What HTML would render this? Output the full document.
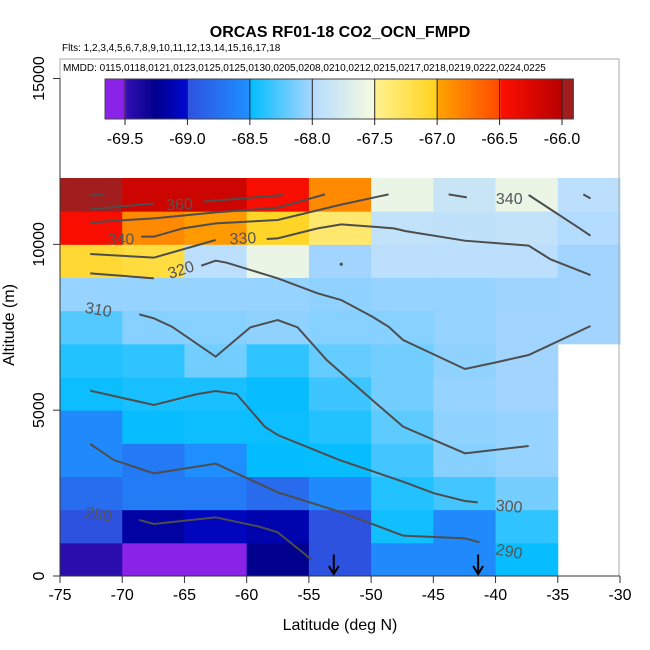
<!DOCTYPE html>
<html><head><meta charset="utf-8"><style>
body{margin:0;background:#fff}
svg{display:block;font-family:"Liberation Sans",sans-serif}
</style></head><body>
<svg id="chart" width="650" height="650" viewBox="0 0 650 650">
<text x="340" y="37" text-anchor="middle" font-size="16" font-weight="bold">ORCAS RF01-18 CO2_OCN_FMPD</text>
<text x="62" y="51" font-size="10">Flts: 1,2,3,4,5,6,7,8,9,10,11,12,13,14,15,16,17,18</text>
<g id="cells"></g>
<g id="contours"></g>
<g id="arrows"></g>
<rect x="60" y="59" width="559" height="517" fill="none" stroke="#a8a8a8"/>
<text x="63" y="71" font-size="10">MMDD: 0115,0118,0121,0123,0125,0125,0130,0205,0208,0210,0212,0215,0217,0218,0219,0222,0224,0225</text>
<g id="cbar"></g>
<g id="axes"></g>
<text x="340" y="630" text-anchor="middle" font-size="16">Latitude (deg N)</text>
<text transform="translate(14,325) rotate(-90)" text-anchor="middle" font-size="16">Altitude (m)</text>
</svg>
<script>
const lats=[-75,-70,-65,-60,-55,-50,-45,-40,-35];
const alts=[0,1000,2000,3000,4000,5000,6000,7000,8000,9000,10000,11000];
const values=[
[-69.45,-69.75,-69.7,-69.26,-69.0,-68.56,-68.56,-68.48,null],
[-69.0,-69.18,-69.07,-69.14,-69.0,-68.45,-68.56,-68.36,null],
[-68.78,-68.66,-68.66,-68.8,-68.56,-68.4,-68.3,-68.15,null],
[-68.56,-68.68,-68.52,-68.49,-68.48,-68.3,-68.1,-68.05,null],
[-68.56,-68.48,-68.46,-68.46,-68.4,-68.22,-68.07,-68.05,null],
[-68.46,-68.43,-68.43,-68.48,-68.32,-68.16,-68.05,-68.02,null],
[-68.4,-68.36,-68.16,-68.36,-68.2,-68.16,-68.07,-68.02,null],
[-68.25,-68.1,-68.1,-68.07,-68.1,-68.1,-68.05,-68.02,-68.02],
[-68.05,-68.05,-68.05,-68.05,-68.07,-68.05,-68.05,-68.03,-68.02],
[-67.1,-67.15,-67.95,-67.6,-68.02,-67.95,-67.95,-67.95,-68.02],
[-66.45,-66.85,-66.95,-67.05,-67.35,-67.9,-67.92,-67.9,-68.0],
[-65.9,-66.15,-66.15,-66.45,-66.85,-67.6,-67.85,-67.6,-67.95]];
const cbTicks=[-69.5,-69.0,-68.5,-68.0,-67.5,-67.0,-66.5,-66.0];
const xTicks=[-75,-70,-65,-60,-55,-50,-45,-40,-35,-30];
const yTicks=[0,5000,10000,15000];
const contourLines=[
[[-72.57,11467],[-71.55,11507]],
[[-72.57,11055],[-67.46,11236]],
[[-63.5,11286],[-57.08,11487]],
[[-72.57,10663],[-67.46,10784],[-62.49,10965],[-57.51,11105],[-53.71,11507]],
[[-68.48,10231],[-67.46,10231],[-65.12,10482],[-62.49,10633],[-57.51,10733],[-52.54,11186],[-48.6,11507]],
[[-43.77,11507],[-42.31,11417]],
[[-37.34,11487],[-33.25,10482],[-32.37,10261]],
[[-32.95,11507],[-32.37,11387]],
[[-72.57,9708],[-67.46,9598],[-62.49,10131]],
[[-58.39,10161],[-57.51,10181],[-54.3,10482],[-52.4,10603],[-48.16,10482],[-47.28,10402],[-42.46,10110],[-37.34,9960],[-35.58,9548],[-32.37,9075]],
[[-72.57,9125],[-67.46,8975]],
[[-63.65,9357],[-62.49,9507],[-61.61,9447],[-57.51,8975],[-54.3,8522],[-52.4,8321],[-49.91,7819],[-48.6,7517],[-47.43,7115],[-42.46,6241],[-39.97,6442],[-37.34,6663],[-32.37,7538]],
[[-68.63,7889],[-67.46,7769],[-66.0,7517],[-62.49,6613],[-59.71,7497],[-57.51,7718],[-55.91,7497],[-53.57,6512],[-49.91,5306],[-47.43,4502],[-42.46,3698],[-37.34,3920]],
[[-72.57,5588],[-67.46,5156],[-64.09,5477],[-62.49,5578],[-60.82,5487],[-58.54,4502],[-57.51,4251],[-52.54,3497],[-47.43,2844],[-44.94,2492],[-42.46,2261],[-41.43,2221]],
[[-72.57,3980],[-70.67,3497],[-67.46,3095],[-62.49,3387],[-57.51,2523],[-52.54,1940],[-47.43,1216],[-42.46,1136],[-41.29,1015]],
[[-68.63,1688],[-67.46,1568],[-62.49,1769],[-58.98,1487],[-57.51,1317],[-54.74,482]]];
const labelText=["360","340","330","340","320","310","300","290","280"];
const labelLat=[-65.4,-70.1,-60.3,-38.9,-65.3,-71.9,-38.9,-38.9,-71.9];
const labelAlt=[11220,10170,10200,11400,9250,8050,2120,760,1880];
const labelRot=[-3,0,-3,0,-18,10,5,10,10];
const arrowLats=[-53.0,-41.4];

const X0=60,PX=560/45,Y0=576,PY=398/12000;
const sx=v=>X0+(v+75)*PX;
const sy=v=>Y0-v*PY;
const NS='http://www.w3.org/2000/svg';
function mk(tag,attrs,parent){const e=document.createElementNS(NS,tag);for(const k in attrs)e.setAttribute(k,attrs[k]);parent.appendChild(e);return e;}
function hex(c){return [parseInt(c.slice(1,3),16),parseInt(c.slice(3,5),16),parseInt(c.slice(5,7),16)];}
const segs=[[-99,-69.5,'#8a22e8','#8a22e8'],[-69.5,-69.25,'#3410b4','#00008b'],[-69.25,-69.0,'#000090','#0008d0'],[-69.0,-68.5,'#2e52e0','#1e90ff'],[-68.5,-68.0,'#00bcff','#a8d6ff'],[-68.0,-67.5,'#b4dcff','#f8fbe0'],[-67.5,-67.0,'#fff290','#ffd21c'],[-67.0,-66.5,'#ffa400','#ff4a00'],[-66.5,-66.0,'#ff1000','#b80000'],[-66.0,99,'#a21d1d','#a21d1d']];
function color(v){for(const s of segs){if(v>=s[0]&&v<s[1]){let t=(s[0]<-90||s[1]>90)?0:(v-s[0])/(s[1]-s[0]);const a=hex(s[2]),b=hex(s[3]);return 'rgb('+a.map((x,i)=>Math.round(x+(b[i]-x)*t)).join(',')+')';}}return '#fff';}
const cells=document.getElementById('cells');
values.forEach((row,i)=>row.forEach((v,j)=>{if(v===null)return;
const r=mk('rect',{x:sx(lats[j]),y:sy(alts[i]+1000),width:sx(lats[j]+5)-sx(lats[j])+0.5,height:sy(alts[i])-sy(alts[i]+1000)+0.5,fill:color(v)},cells);

}));
const cg=document.getElementById('contours');
contourLines.forEach(l=>{const p=mk('polyline',{points:l.map(q=>sx(q[0])+','+sy(q[1])).join(' '),fill:'none',stroke:'#4d4d4d','stroke-width':2},cg);

});
mk('circle',{cx:sx(-52.4),cy:sy(9400),r:1.6,fill:'#4d4d4d'},cg);
labelText.forEach((t,i)=>{const x=sx(labelLat[i]),y=sy(labelAlt[i]);const e=mk('text',{x:x,y:y+6,'text-anchor':'middle','font-size':16,fill:'#555',transform:'rotate('+labelRot[i]+' '+x+' '+y+')'},cg);e.textContent=t;

});
const ag=document.getElementById('arrows');
arrowLats.forEach(a=>{const x=sx(a);const g=mk('g',{},ag);


mk('line',{x1:x,y1:sy(650),x2:x,y2:Y0-2,stroke:'#000','stroke-width':2},g);
mk('polyline',{points:(x-5)+','+(Y0-10)+' '+x+','+(Y0-2)+' '+(x+5)+','+(Y0-10),fill:'none',stroke:'#000','stroke-width':2},g);});
const cb=document.getElementById('cbar');
const C0=125,CP=(562-125)/3.5,cx=v=>C0+(v+69.5)*CP;
const lo=-69.66,hi=-65.91,N=200;
for(let k=0;k<N;k++){const v=lo+(hi-lo)*(k+0.5)/N;mk('rect',{x:cx(lo)+(cx(hi)-cx(lo))*k/N,y:79,width:(cx(hi)-cx(lo))/N+0.6,height:40,fill:color(v)},cb);}
mk('rect',{x:cx(lo),y:79,width:cx(hi)-cx(lo),height:40,fill:'none',stroke:'#444'},cb);
cbTicks.forEach(t=>{mk('line',{x1:cx(t),y1:79,x2:cx(t),y2:125,stroke:'#222'},cb);
const e=mk('text',{x:cx(t),y:144,'text-anchor':'middle','font-size':16},cb);e.textContent=t.toFixed(1);

});
const ax=document.getElementById('axes');
mk('line',{x1:60,y1:Y0,x2:620,y2:Y0,stroke:'#333'},ax);
mk('line',{x1:60,y1:Y0,x2:60,y2:sy(15000),stroke:'#333'},ax);
xTicks.forEach(t=>{mk('line',{x1:sx(t),y1:Y0,x2:sx(t),y2:Y0+7,stroke:'#333'},ax);
const e=mk('text',{x:sx(t),y:600,'text-anchor':'middle','font-size':16},ax);e.textContent=t;

});
yTicks.forEach(t=>{mk('line',{x1:53,y1:sy(t),x2:60,y2:sy(t),stroke:'#333'},ax);
const e=mk('text',{transform:'translate(44,'+sy(t)+') rotate(-90)','text-anchor':'middle','font-size':16},ax);e.textContent=t;

});
</script>
</body></html>
